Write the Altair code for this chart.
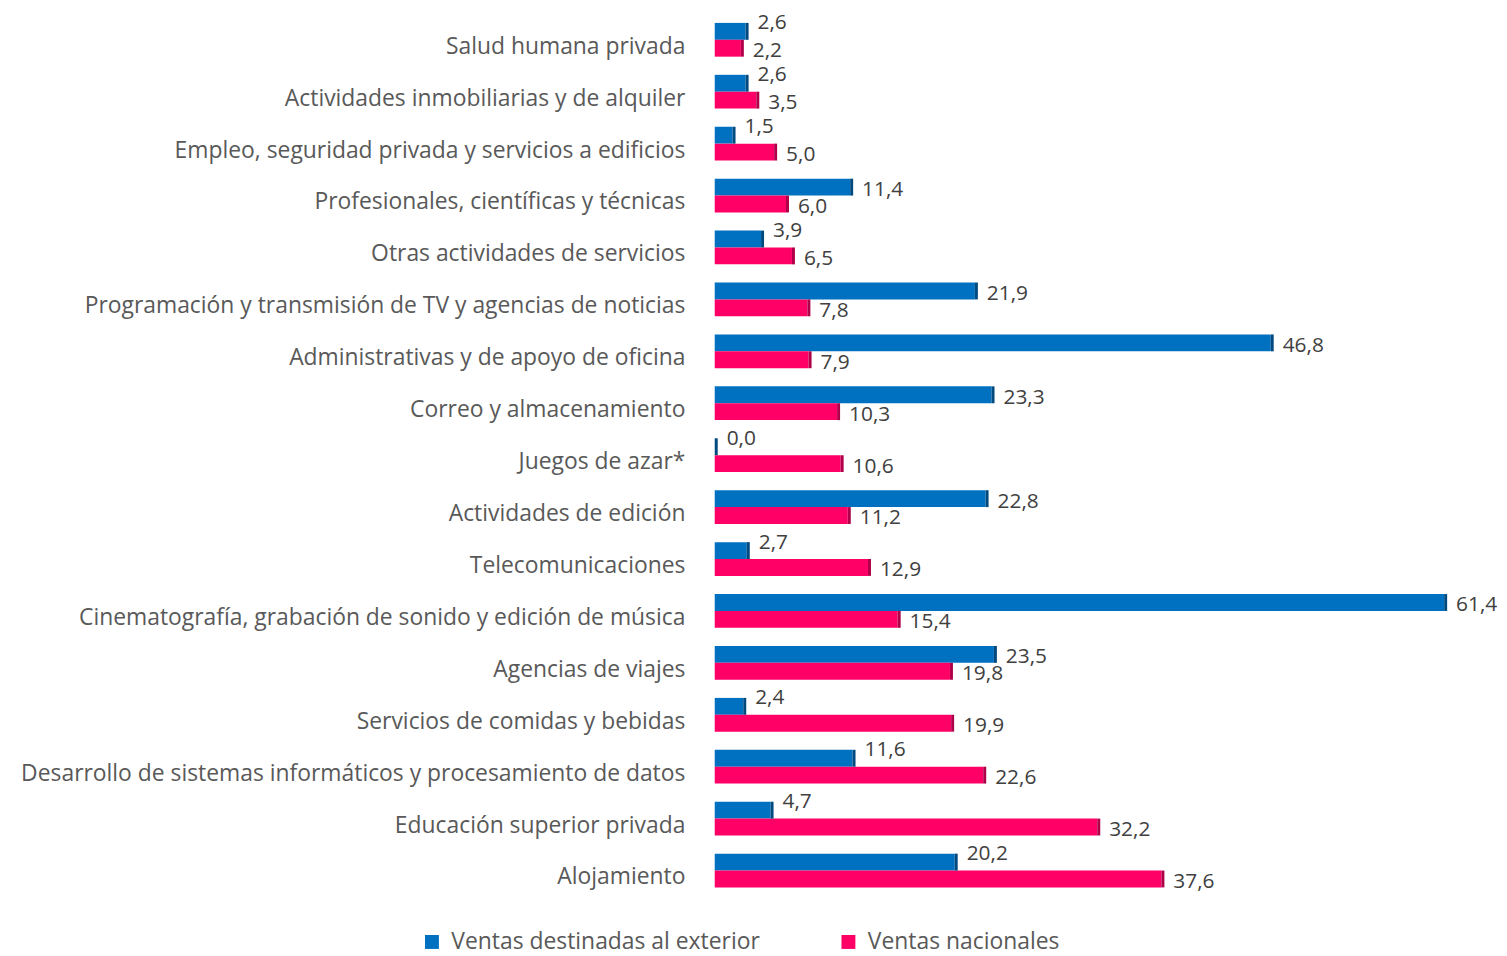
import altair as alt
import pandas as pd

categories = [
    "Salud humana privada",
    "Actividades inmobiliarias y de alquiler",
    "Empleo, seguridad privada y servicios a edificios",
    "Profesionales, científicas y técnicas",
    "Otras actividades de servicios",
    "Programación y transmisión de TV y agencias de noticias",
    "Administrativas y de apoyo de oficina",
    "Correo y almacenamiento",
    "Juegos de azar*",
    "Actividades de edición",
    "Telecomunicaciones",
    "Cinematografía, grabación de sonido y edición de música",
    "Agencias de viajes",
    "Servicios de comidas y bebidas",
    "Desarrollo de sistemas informáticos y procesamiento de datos",
    "Educación superior privada",
    "Alojamiento",
]
exterior = [2.6, 2.6, 1.5, 11.4, 3.9, 21.9, 46.8, 23.3, 0.0, 22.8, 2.7, 61.4, 23.5, 2.4, 11.6, 4.7, 20.2]
nacional = [2.2, 3.5, 5.0, 6.0, 6.5, 7.8, 7.9, 10.3, 10.6, 11.2, 12.9, 15.4, 19.8, 19.9, 22.6, 32.2, 37.6]
series = ["Ventas destinadas al exterior", "Ventas nacionales"]
colors = ["#0070C0", "#FF0066"]
dark_colors = ["#004A80", "#B0004A"]

rows = []
for c, e, n in zip(categories, exterior, nacional):
    rows.append({"cat": c, "serie": series[0], "v": e, "other": n})
    rows.append({"cat": c, "serie": series[1], "v": n, "other": e})
df = pd.DataFrame(rows)

FONT = "Open Sans"
TXT = "#595959"

y = alt.Y("cat:N", sort=categories, title=None,
          scale=alt.Scale(paddingInner=0.35, paddingOuter=0.175),
          axis=alt.Axis(domain=False, ticks=False, grid=False, labelPadding=30,
                        labelFont=FONT, labelFontSize=23, labelColor=TXT,
                        labelLimit=900, labelOffset=7))
x = alt.X("v:Q", title=None, scale=alt.Scale(domain=[0, 62], nice=False), axis=None)
yoff = alt.YOffset("serie:N", sort=series)

base = alt.Chart(df).encode(y=y, yOffset=yoff)

bars = base.mark_bar(cornerRadius=0).encode(
    x=x,
    color=alt.Color("serie:N", sort=series,
                    scale=alt.Scale(domain=series, range=colors),
                    legend=alt.Legend(title=None, orient="none", direction="horizontal",
                                      legendX=-296, legendY=922,
                                      symbolType="square", symbolSize=196,
                                      symbolStrokeWidth=0, labelFont=FONT,
                                      labelFontSize=23, labelColor=TXT,
                                      columnPadding=77, labelLimit=600, labelOffset=8)),
)

side = base.mark_tick(thickness=3, size=17, xOffset=1.5, opacity=1).encode(
    x=alt.X("v:Q"),
    color=alt.Color("serie:N", sort=series,
                    scale=alt.Scale(domain=series, range=dark_colors), legend=None),
)

lab_expr = "replace(format(datum.v, '.1f'), '.', ',')"

labels_raised = base.mark_text(align="left", baseline="middle", dx=12, dy=-8, font=FONT,
                               fontSize=21, color="#404040").encode(
    x=alt.X("v:Q"), text=alt.Text("lab:N"),
).transform_filter(
    (alt.datum.serie == series[0]) & (alt.datum.v < alt.datum.other + 3)
).transform_calculate(lab=lab_expr)

labels_normal = base.mark_text(align="left", baseline="middle", dx=12, dy=3, font=FONT,
                               fontSize=21, color="#404040").encode(
    x=alt.X("v:Q"), text=alt.Text("lab:N"),
).transform_filter(
    (alt.datum.serie == series[1]) | (alt.datum.v >= alt.datum.other + 3)
).transform_calculate(lab=lab_expr)

chart = alt.layer(bars, side, labels_raised, labels_normal).resolve_scale(
    color="independent"
).properties(
    width=741, height=888,
    autosize=alt.AutoSizeParams(type="none"),
    padding={"left": 711, "top": 3, "right": 48, "bottom": 57},
).configure(background="white").configure_view(strokeWidth=0, stroke=None)

chart.save("out.html", embed_options={"renderer": "svg", "actions": False})
